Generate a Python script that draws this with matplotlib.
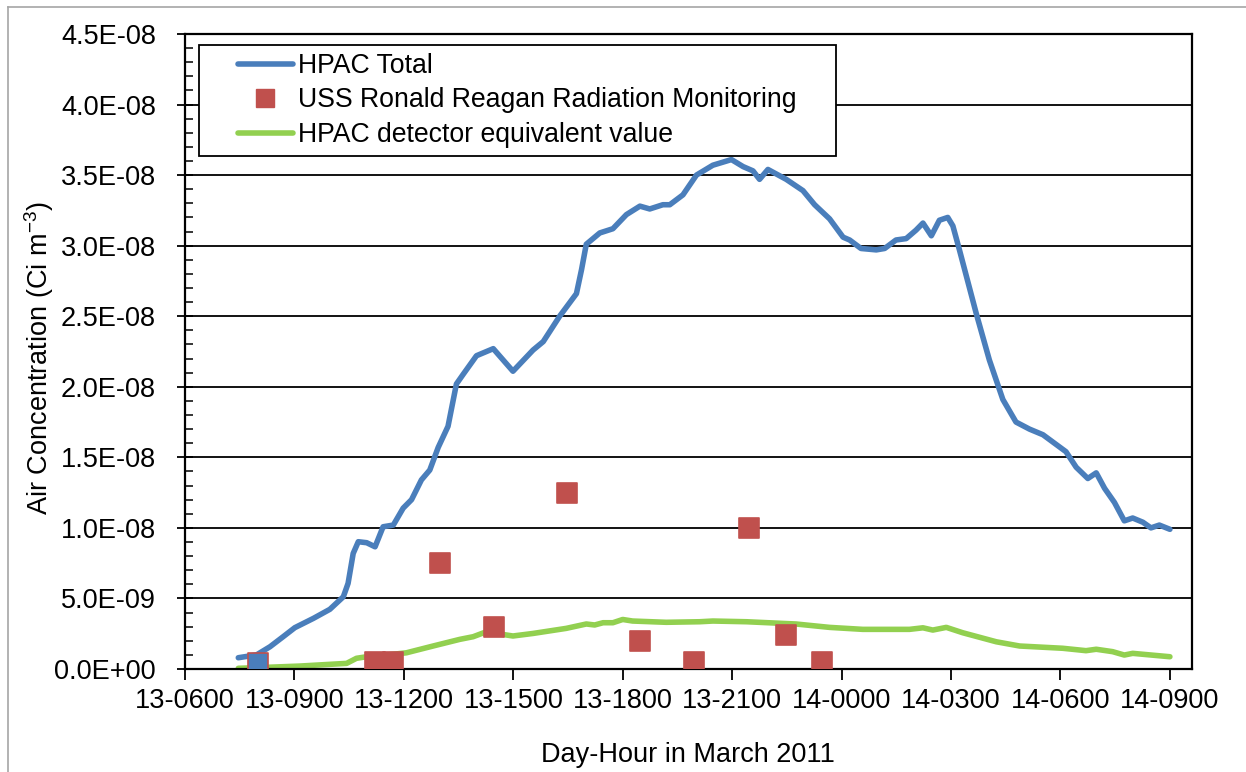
import matplotlib.pyplot as plt
import numpy as np
from matplotlib.lines import Line2D
from matplotlib.legend_handler import HandlerLine2D
from matplotlib.ticker import MultipleLocator

plt.rcParams['font.family'] = ['Liberation Sans', 'DejaVu Sans']
plt.rcParams['mathtext.fontset'] = 'custom'
plt.rcParams['mathtext.rm'] = 'Liberation Sans'
plt.rcParams['mathtext.it'] = 'Liberation Sans:italic'

# hours counted from 13 March 00:00
hpac_hr = [7.46, 7.96, 8.33, 8.69, 9.01, 9.52, 9.97, 10.34, 10.47, 10.61, 10.75,
           10.98, 11.21, 11.43, 11.71, 11.98, 12.21, 12.48, 12.71, 12.94, 13.21,
           13.44, 13.63, 13.99, 14.45, 14.99, 15.54, 15.82, 16.27, 16.73, 16.87,
           17.0, 17.37, 17.73, 18.10, 18.47, 18.74, 19.10, 19.29, 19.65, 20.02,
           20.47, 20.98, 21.30, 21.57, 21.75, 21.98, 22.48, 22.94, 23.26, 23.67,
           24.04, 24.22, 24.53, 24.95, 25.18, 25.49, 25.77, 26.04, 26.23, 26.46,
           26.68, 26.91, 27.05, 27.23, 27.69, 28.05, 28.42, 28.78, 29.15, 29.52,
           30.15, 30.43, 30.75, 30.98, 31.21, 31.48, 31.75, 31.98, 32.26, 32.48,
           32.71, 33.0]
hpac_total = [0.80, 1.00, 1.58, 2.29, 2.93, 3.59, 4.23, 5.12, 6.07, 8.19, 9.02,
              8.95, 8.66, 10.08, 10.2, 11.4, 12.0, 13.4, 14.1, 15.7, 17.2,
              20.2, 20.9, 22.2, 22.7, 21.1, 22.6, 23.2, 25.0, 26.6, 28.3,
              30.1, 30.9, 31.2, 32.2, 32.8, 32.6, 32.9, 32.9, 33.6, 35.0,
              35.7, 36.1, 35.6, 35.3, 34.7, 35.4, 34.7, 33.9, 32.9, 31.9,
              30.6, 30.4, 29.8, 29.7, 29.8, 30.4, 30.5, 31.1, 31.6, 30.7,
              31.8, 32.0, 31.4, 29.7, 25.2, 21.9, 19.1, 17.5, 17.0, 16.6,
              15.4, 14.3, 13.5, 13.9, 12.8, 11.8, 10.5, 10.7, 10.4, 10.0,
              10.2, 9.9]

det_hr = [7.46, 8.24, 9.15, 10.43, 10.70, 10.98, 11.52, 12.07, 12.80, 13.53,
          13.90, 14.26, 14.53, 14.99, 15.54, 16.45, 17.0, 17.23, 17.46, 17.73,
          18.0, 18.27, 19.19, 20.11, 20.47, 21.39, 22.75, 23.67, 24.58, 25.86,
          26.23, 26.50, 26.87, 27.32, 28.24, 28.88, 30.06, 30.70, 30.98, 31.43,
          31.75, 31.98, 33.0]
det_equiv = [0.05, 0.12, 0.21, 0.40, 0.76, 0.87, 0.99, 1.15, 1.63, 2.10,
             2.29, 2.64, 2.52, 2.34, 2.52, 2.88, 3.19, 3.12, 3.28, 3.28,
             3.51, 3.40, 3.31, 3.35, 3.40, 3.35, 3.19, 2.95, 2.81, 2.81,
             2.92, 2.76, 2.95, 2.57, 1.93, 1.63, 1.47, 1.30, 1.40, 1.23,
             0.99, 1.11, 0.87]

uss_hr = [8.0, 11.2, 11.7, 13.0, 14.47, 16.47, 18.47, 19.95, 21.45, 22.47, 23.47]
uss_val = [0.45, 0.5, 0.5, 7.5, 3.0, 12.5, 2.0, 0.5, 10.0, 2.4, 0.5]

tick_hr = [6, 9, 12, 15, 18, 21, 24, 27, 30, 33]
tick_lab = ['13-0600', '13-0900', '13-1200', '13-1500', '13-1800',
            '13-2100', '14-0000', '14-0300', '14-0600', '14-0900']

hpac_total = np.array(hpac_total) * 1e-9
det_equiv = np.array(det_equiv) * 1e-9
uss_val = np.array(uss_val) * 1e-9

blue = '#4A7EBB'
red = '#C0504D'
green = '#92D050'


class RightLineHandler(HandlerLine2D):
    """Legend line that only fills the right part of the handle box."""

    def __init__(self, frac=0.64, **kw):
        super().__init__(**kw)
        self.frac = frac

    def create_artists(self, legend, orig_handle, xdescent, ydescent,
                       width, height, fontsize, trans):
        arts = super().create_artists(legend, orig_handle, xdescent, ydescent,
                                      width, height, fontsize, trans)
        x1 = -xdescent + width
        x0 = x1 - self.frac * width
        for a in arts:
            n = len(a.get_xdata())
            if n > 1:
                a.set_xdata(np.linspace(x0, x1, n))
            else:
                a.set_xdata([0.5 * (x0 + x1)])
        return arts


fig = plt.figure(figsize=(12.46, 7.72), dpi=100)
ax = fig.add_axes([0.1485, 0.1334, 0.808, 0.8226])

l1, = ax.plot(hpac_hr, hpac_total, color=blue, lw=4, solid_capstyle='round',
              solid_joinstyle='round', zorder=3)
l2, = ax.plot(det_hr, det_equiv, color=green, lw=4, solid_capstyle='round',
              solid_joinstyle='round', zorder=2)
faces = [blue] + [red] * (len(uss_hr) - 1)
ax.scatter(uss_hr, uss_val, marker='s', s=210, c=faces, edgecolors=red,
           linewidths=1.2, zorder=4)
uss_proxy = Line2D([], [], ls='none', marker='s', ms=12.5, mfc=red, mec=red)

ax.set_xlim(6, 33.6)
ax.set_ylim(0, 4.5e-8)
ax.set_xticks(tick_hr)
ax.set_xticklabels(tick_lab)
ax.yaxis.set_major_locator(MultipleLocator(5e-9))
ax.yaxis.set_minor_locator(MultipleLocator(1e-9))
ax.yaxis.set_major_formatter(plt.FuncFormatter(lambda v, p: '%.1E' % v))
ax.grid(axis='y', color='black', lw=1.3)
ax.set_axisbelow(True)

ax.tick_params(axis='y', which='major', direction='inout', length=12,
               width=1.3, labelsize=19.5, pad=15)
ax.tick_params(axis='y', which='minor', direction='in', length=6, width=1.1)
ax.tick_params(axis='x', direction='out', length=8, width=1.3,
               labelsize=19.5, pad=6)
for s in ax.spines.values():
    s.set_linewidth(1.6)
    s.set_color('black')

ax.set_xlabel('Day-Hour in March 2011', fontsize=19.5, labelpad=20)
ax.set_ylabel('Air Concentration (Ci m$^{-3}$)', fontsize=19.5)
ax.yaxis.set_label_coords(-0.128, 0.49)

leg = ax.legend([l1, uss_proxy, l2],
                ['HPAC Total', 'USS Ronald Reagan Radiation Monitoring',
                 'HPAC detector equivalent value'],
                handler_map={Line2D: RightLineHandler()},
                loc='upper left', bbox_to_anchor=(0.0139, 0.0, 0.6326, 0.9827),
                mode='expand', borderaxespad=0, fontsize=19.2, fancybox=False,
                framealpha=1, edgecolor='black', handlelength=3.22,
                handletextpad=0.19, borderpad=0.3, labelspacing=0.32)
leg.get_frame().set_linewidth(1.3)

# thin gray outline along the top and left of the figure
fig.add_artist(Line2D([8 / 1246, 8 / 1246], [0, 1 - 7 / 772],
                      transform=fig.transFigure, color='#A6A6A6', lw=1.2))
fig.add_artist(Line2D([8 / 1246, 1], [1 - 7 / 772, 1 - 7 / 772],
                      transform=fig.transFigure, color='#A6A6A6', lw=1.2))

fig.savefig('out.png', dpi=100)
